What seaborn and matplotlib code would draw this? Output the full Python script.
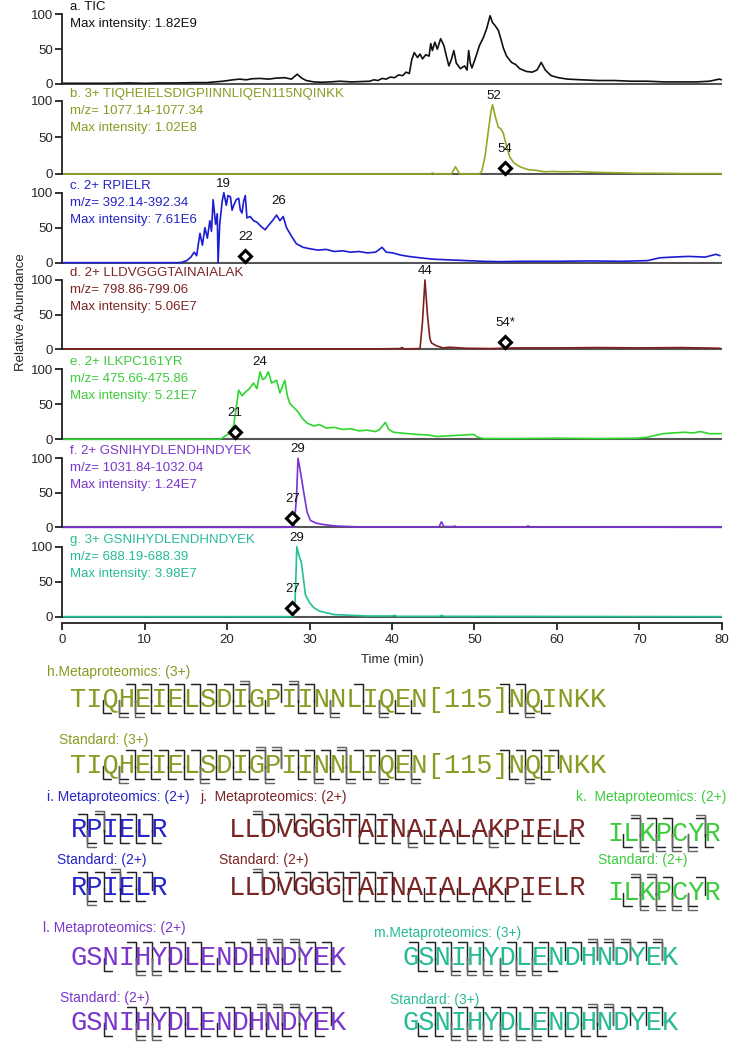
import matplotlib
matplotlib.use("Agg")
import matplotlib.pyplot as plt
import pandas as pd
import seaborn as sns

sns.set_style("ticks")
plt.rcParams['font.family'] = ['Liberation Sans', 'DejaVu Sans']

# ---------------- chromatogram data (time in min, relative abundance) ----------------
tic = [(0, 1), (2, 1), (4, 1), (6, 1), (8, 1.5), (10, 1), (12, 1.5), (14, 1.5), (16, 2), (17.5, 2),
       (18.5, 3), (19.5, 4), (20.7, 6), (21.5, 7), (22.3, 6), (23, 7.5), (24, 8), (25, 7), (26, 8.5),
       (27, 9), (27.8, 7), (28.5, 14), (29.1, 8), (29.6, 5), (30.5, 3), (31.5, 2.5), (32.5, 3),
       (33.7, 4), (35, 3), (36.3, 3.5), (37.3, 4), (37.8, 6), (38.3, 5), (38.8, 8), (39.3, 7),
       (39.8, 10), (40.3, 9), (40.8, 13), (41.3, 12), (41.7, 17), (42.1, 15), (42.4, 35), (42.7, 45),
       (43.1, 38), (43.4, 43), (43.7, 36), (44.1, 42), (44.5, 40), (44.7, 58), (44.9, 48), (45.2, 60),
       (45.5, 50), (45.9, 65), (46.3, 55), (46.6, 40), (46.9, 26), (47.2, 35), (47.5, 48), (47.8, 30),
       (48.3, 22), (48.8, 26), (49.1, 20), (49.3, 48), (49.5, 30), (49.7, 23), (50.2, 40), (50.6, 55),
       (51.1, 67), (51.5, 80), (51.9, 98), (52.2, 88), (52.5, 84), (52.9, 77), (53.2, 65), (53.5, 52),
       (53.9, 40), (54.5, 31), (55, 28), (55.5, 22), (56.3, 18), (57, 17), (57.6, 20), (58.1, 31),
       (58.6, 20), (59.3, 12), (60.2, 9), (61.3, 7), (63, 6), (65, 5), (67, 5), (69, 4), (71, 4),
       (73, 3), (75, 3), (77, 3), (78.5, 4), (79.7, 7), (80, 6)]

tiq = [(0, 0), (10, 0), (20, 0), (30, 0), (40, 0), (44.7, 0), (44.9, 1.5), (45.1, 0), (47.2, 0),
       (47.7, 10), (48.2, 0), (50.6, 0), (50.9, 4), (51.3, 25), (51.7, 60), (52, 85), (52.2, 95),
       (52.5, 80), (52.9, 64), (53.2, 62), (53.5, 56), (53.9, 38), (54.3, 23), (54.8, 15), (55.5, 10),
       (56.5, 6), (57.5, 5), (58.5, 3), (59.5, 3.5), (61, 3), (62.5, 3.5), (64, 2.5), (65.6, 2),
       (68, 1.5), (70, 1), (72, 1), (75, 0.5), (78, 0.5), (80, 0.5)]

rpi = [(0, 0), (10, 0), (14, 0), (14.5, 0.5), (15.1, 3), (15.6, 8), (16, 15), (16.3, 10), (16.7, 42),
       (17, 25), (17.3, 50), (17.6, 35), (17.9, 60), (18.1, 45), (18.3, 90), (18.6, 55), (18.8, 70),
       (18.9, 0), (19.1, 55), (19.4, 88), (19.6, 100), (19.9, 82), (20.1, 96), (20.4, 94), (20.6, 75),
       (20.8, 82), (21.1, 90), (21.4, 92), (21.6, 75), (21.8, 71), (22, 88), (22.2, 96), (22.4, 64),
       (22.8, 66), (23.2, 60), (23.6, 58), (24.1, 52), (24.6, 47), (25, 53), (25.5, 60), (26, 68),
       (26.4, 60), (26.8, 66), (27.2, 50), (27.8, 38), (28.4, 27), (29.2, 22), (30, 20), (31, 18),
       (32, 19), (33, 16), (34, 17), (35, 15), (36, 16), (37, 14), (38, 15), (38.8, 22), (39.3, 15),
       (40.1, 14), (41, 11), (42, 9), (43.4, 7), (45, 5), (47, 4), (49, 3), (51, 2), (53, 1.5),
       (56, 2), (60, 2), (64, 2.5), (68, 2), (71, 3), (72.5, 7), (74, 8), (76, 9), (78, 8),
       (79.3, 12), (79.8, 10)]

lld = [(0, 0.5), (10, 0.5), (20, 0.5), (30, 0.5), (38, 0.5), (41, 1), (41.2, 2.5), (41.5, 0.5),
       (43.4, 1), (43.7, 40), (44, 100), (44.3, 50), (44.6, 15), (44.8, 9), (45.4, 5), (46.2, 2),
       (47, 3), (49, 1.5), (52, 1), (55, 2), (60, 2), (65, 2.5), (70, 2), (75, 2.5), (79.8, 1.5)]

ilk = [(0, 0), (10, 0), (19, 0), (19.3, 1), (20.2, 8), (20.8, 20), (21.1, 45), (21.4, 70), (21.8, 62),
       (22.2, 67), (22.7, 72), (23.2, 80), (23.6, 72), (24, 96), (24.3, 85), (24.6, 87), (25, 96),
       (25.4, 80), (26, 84), (26.4, 66), (27, 84), (27.3, 62), (27.6, 51), (28.1, 45), (28.6, 39),
       (29.1, 30), (29.7, 23), (30.5, 19), (31.2, 21), (32, 16), (33, 17), (34, 14), (35, 15),
       (36, 12), (37, 13), (38, 11), (38.5, 14), (39.2, 24), (39.6, 14), (40.2, 10), (41, 9), (42, 8),
       (43, 7), (44.5, 6), (45.4, 4), (47, 5), (48.5, 6), (49.9, 7), (50.4, 3), (51.1, 1), (55, 1),
       (60, 1.5), (65, 1), (69.7, 1.5), (71, 3), (72.9, 8), (74, 9), (75.5, 10), (76.5, 9),
       (77.4, 11), (78.5, 8), (80, 8)]

gsn2 = [(0, 0), (10, 0), (20, 0), (27, 0), (28.1, 0.5), (28.4, 40), (28.6, 100), (28.9, 80),
        (29.3, 50), (29.7, 22), (30.1, 10), (30.8, 6), (31.7, 4), (33, 2), (34.9, 1), (36, 0.5),
        (45.7, 0.5), (46, 8), (46.3, 1), (47.5, 1), (47.6, 2), (47.8, 0.5), (56.3, 0.5),
        (56.5, 2), (56.8, 0.5), (80, 0)]

gsn3 = [(0, 0), (10, 0), (20, 0), (28, 0), (28.2, 8), (28.35, 60), (28.45, 100), (28.7, 88),
        (29, 78), (29.3, 50), (29.5, 31), (30, 20), (30.5, 13), (31.2, 8), (31.9, 6), (33, 3),
        (35, 2), (37, 1), (40, 1), (40.3, 2), (40.6, 0.5), (45.8, 0.5), (46, 2), (46.3, 0.5), (80, 0)]

panel_names = ['a', 'b', 'c', 'd', 'e', 'f', 'g']
traces = [tic, tiq, rpi, lld, ilk, gsn2, gsn3]
panel_text = [
    ["a. TIC", "Max intensity: 1.82E9"],
    ["b. 3+ TIQHEIELSDIGPIINNLIQEN115NQINKK", "m/z= 1077.14-1077.34", "Max intensity: 1.02E8"],
    ["c. 2+ RPIELR", "m/z= 392.14-392.34", "Max intensity: 7.61E6"],
    ["d. 2+ LLDVGGGTAINAIALAK", "m/z= 798.86-799.06", "Max intensity: 5.06E7"],
    ["e. 2+ ILKPC161YR", "m/z= 475.66-475.86", "Max intensity: 5.21E7"],
    ["f. 2+ GSNIHYDLENDHNDYEK", "m/z= 1031.84-1032.04", "Max intensity: 1.24E7"],
    ["g. 3+ GSNIHYDLENDHNDYEK", "m/z= 688.19-688.39", "Max intensity: 3.98E7"],
]
text_colors = ['#111111', '#8a9a22', '#2424c8', '#7a2424', '#3ccb3c', '#7a36cc', '#27bb94']
line_colors = ['#111111', '#95a824', '#1c1cd4', '#7c1f1f', '#2ed62e', '#7b2fd6', '#22c096']

# labelled apex (text, time, rel. abundance) and diamond (text, time, rel. abundance)
peak_labels = [[], [("52", 52.3, 95)], [("19", 19.6, 100), ("26", 26.2, 75)], [("44", 44.0, 100)],
               [("24", 24.0, 97)], [("29", 28.6, 100)], [("29", 28.45, 100)]]
diamonds = [None, ("54", 53.7, 8), ("22", 22.2, 9), ("54*", 53.7, 11), ("21", 20.9, 10),
            ("27", 27.9, 13), ("27", 27.9, 13)]

rows = []
for name, pts in zip(panel_names, traces):
    for t, v in pts:
        rows.append((name, t, v))
df = pd.DataFrame(rows, columns=['panel', 'time', 'rel'])

# ---------------- figure layout (pixels) ----------------
W, H = 738, 1050
fig = plt.figure(figsize=(W / 100, H / 100), dpi=100)
X0, X1 = 62.3, 721.7
zero_px = [84, 174, 262.7, 349.3, 439.3, 527.3, 616.7]
full_px = [14.3, 101, 192.7, 280, 369, 458.3, 546.7]
YLO, YHI = -2, 126

for i, name in enumerate(panel_names):
    k = (zero_px[i] - full_px[i]) / 100
    bot = zero_px[i] - YLO * k
    top = zero_px[i] - YHI * k
    ax = fig.add_axes([X0 / W, 1 - bot / H, (X1 - X0) / W, (bot - top) / H])
    ax.patch.set_alpha(0)
    ax.axhline(0, color='#555555', lw=1.5, zorder=1)
    sns.lineplot(data=df[df.panel == name], x='time', y='rel', ax=ax, color=line_colors[i],
                 lw=1.2, estimator=None, sort=False, legend=False, zorder=2)
    ax.set_xlim(0, 80)
    ax.set_ylim(YLO, YHI)
    ax.set_xlabel('')
    ax.set_ylabel('')
    for s in ['top', 'right']:
        ax.spines[s].set_visible(False)
    ax.spines['left'].set_bounds(0, 100)
    ax.spines['left'].set_linewidth(1.3)
    ax.spines['left'].set_color('#222222')
    ax.set_yticks([0, 50, 100])
    ax.tick_params(axis='y', length=5, width=1.3, pad=1.5, labelsize=9.5, color='#222222')
    if name == 'g':
        ax.spines['bottom'].set_position(('outward', 3.7))
        ax.spines['bottom'].set_bounds(0, 80)
        ax.spines['bottom'].set_linewidth(1.3)
        ax.spines['bottom'].set_color('#222222')
        ax.set_xticks(range(0, 81, 10))
        ax.tick_params(axis='x', length=5, width=1.3, pad=2.5, labelsize=9.5, color='#222222')
    else:
        ax.spines['bottom'].set_visible(False)
        ax.tick_params(axis='x', bottom=False, labelbottom=False)

    for j, line in enumerate(panel_text[i]):
        ax.annotate(line, xy=(0.93, 100), xycoords='data', xytext=(0, 7 - 17 * j),
                    textcoords='offset pixels', ha='left', va='center', fontsize=9.5,
                    color=text_colors[i])
    for lab, t, v in peak_labels[i]:
        ax.annotate(lab, xy=(t, v), xytext=(0, 9), textcoords='offset pixels',
                    ha='center', va='center', fontsize=9.5, color='#111111')
    if diamonds[i] is not None:
        lab, t, v = diamonds[i]
        ax.plot([t], [v], marker='D', ms=6.5, mfc='white', mec='black', mew=2.2,
                zorder=5, clip_on=False)
        ax.annotate(lab, xy=(t, v), xytext=(0, 19), textcoords='offset pixels',
                    ha='center', va='center', fontsize=9.5, color='#111111')

fig.text(21 / W, 1 - 312 / H, "Relative Abundance", rotation=90, ha='center', va='center',
         fontsize=9.5)
fig.text((X0 + X1) / 2 / W, 1 - 660 / H, "Time (min)", ha='center', va='center', fontsize=9.5)

# ---------------- fragment maps ----------------
seq_h = "TIQHEIELSDIGPIINNLIQEN[115]NQINKK"
seq_i = "RPIELR"
seq_j = "LLDVGGGTAINAIALAKPIELR"
seq_k = "ILKPCYR"
seq_l = "GSNIHYDLENDHNDYEK"

# per cleavage site: number of stacked marks above (C-term ions) and below (N-term ions)
h_meta_top = "00011111112012100100000000110000"
h_meta_bot = "01221111111101120121100000121000"
h_std_top = "00011111111221112111100000111100"
h_std_bot = "01211112111201212121200000121000"
i_meta_top = "12111"
i_meta_bot = "21111"
i_std_top = "11211"
i_std_bot = "21110"
j_meta_top = "021111111100000000000"
j_meta_bot = "000000011121111211111"
j_std_top = "021111111100000000000"
j_std_bot = "000000111111111111000"
k_meta_top = "021102"
k_meta_bot = "122221"
k_std_top = "022101"
k_std_bot = "122220"
l_meta_top = "0001111101122211"
l_meta_bot = "0102211111111111"
l_std_top = "0001111101122211"
l_std_bot = "0102211111111110"
m_meta_top = "1111101111122212"
m_meta_bot = "1122222210000000"
m_std_top = "0111111111122111"
m_std_bot = "1122222211110000"

axb = fig.add_axes([0, 0, 1, 390 / H])
axb.set_xlim(0, W)
axb.set_ylim(H, 660)
axb.axis('off')

SEQ_FS = 19.5
CW = SEQ_FS / 0.72 * 0.6
mark_cols = ['#222222', '#666666', '#999999']


def draw_seq(seq, x0, yc, color, top, bot):
    axb.text(x0, yc + 8, seq, fontfamily='Liberation Mono', fontsize=SEQ_FS, color=color,
             ha='left', va='baseline')
    for kk, c in enumerate(top, start=1):
        xb = x0 + kk * CW
        for j in range(int(c)):
            yy = yc - 15 - 3.5 * j
            axb.plot([xb - 0.55 * CW, xb, xb], [yy, yy, yc + 3], color=mark_cols[j], lw=1.05)
    for kk, c in enumerate(bot, start=1):
        xb = x0 + kk * CW
        for j in range(int(c)):
            yy = yc + 14 + 3.5 * j
            axb.plot([xb, xb, xb + 0.55 * CW], [yc + 1, yy, yy], color=mark_cols[j], lw=1.05)


olive, blue, maroon, green, purple, teal = text_colors[1:]
labels = [
    ("h.Metaproteomics: (3+)", 47, 672, olive),
    ("Standard: (3+)", 59, 740, olive),
    ("i. Metaproteomics: (2+)", 47, 797, blue),
    ("j.  Metaproteomics: (2+)", 200, 797, maroon),
    ("k.  Metaproteomics: (2+)", 576, 797, green),
    ("Standard: (2+)", 57, 860, blue),
    ("Standard: (2+)", 219, 860, maroon),
    ("Standard: (2+)", 598, 860, green),
    ("l. Metaproteomics: (2+)", 43, 928, purple),
    ("m.Metaproteomics: (3+)", 374, 933, teal),
    ("Standard: (2+)", 60, 998, purple),
    ("Standard: (3+)", 390, 1000, teal),
]
for txt, x, y, col in labels:
    axb.text(x, y, txt, ha='left', va='center', fontsize=10, color=col)

draw_seq(seq_h, 70, 699, olive, h_meta_top, h_meta_bot)
draw_seq(seq_h, 70, 765, olive, h_std_top, h_std_bot)
draw_seq(seq_i, 71, 829, blue, i_meta_top, i_meta_bot)
draw_seq(seq_i, 71, 887, blue, i_std_top, i_std_bot)
draw_seq(seq_j, 229, 829, maroon, j_meta_top, j_meta_bot)
draw_seq(seq_j, 229, 887, maroon, j_std_top, j_std_bot)
draw_seq(seq_k, 607, 833, green, k_meta_top, k_meta_bot)
draw_seq(seq_k, 607, 892, green, k_std_top, k_std_bot)
draw_seq(seq_l, 71, 957, purple, l_meta_top, l_meta_bot)
draw_seq(seq_l, 71, 1022, purple, l_std_top, l_std_bot)
draw_seq(seq_l, 402, 957, teal, m_meta_top, m_meta_bot)
draw_seq(seq_l, 402, 1022, teal, m_std_top, m_std_bot)

fig.savefig("out.png", dpi=100)
